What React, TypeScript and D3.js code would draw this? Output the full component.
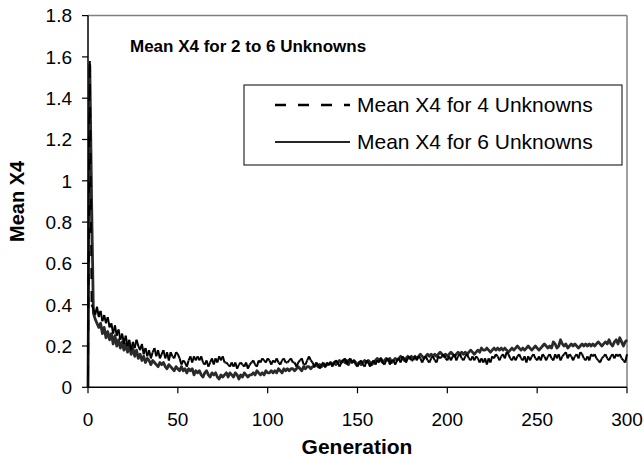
import React from "react";
import * as d3 from "d3";

// Mean X4 for 4 Unknowns (dashed), one value per generation 0..300
const mean4: number[] = [
  0.05, 1.58, 0.40, 0.38, 0.35, 0.39, 0.34, 0.37, 0.32, 0.35, 0.31,
  0.34, 0.29, 0.31, 0.26, 0.30, 0.25, 0.28, 0.23, 0.26, 0.21,
  0.25, 0.20, 0.23, 0.18, 0.22, 0.19, 0.23, 0.20, 0.18, 0.21,
  0.16, 0.19, 0.15, 0.18, 0.14, 0.17, 0.19, 0.15, 0.18, 0.14,
  0.16, 0.18, 0.14, 0.17, 0.13, 0.17, 0.15, 0.14, 0.17, 0.16,
  0.14, 0.11, 0.13, 0.12, 0.10, 0.13, 0.15, 0.12, 0.15, 0.13,
  0.15, 0.13, 0.15, 0.12, 0.11, 0.13, 0.10, 0.12, 0.14, 0.11,
  0.14, 0.12, 0.15, 0.13, 0.15, 0.12, 0.12, 0.11, 0.10, 0.12,
  0.10, 0.12, 0.09, 0.11, 0.12, 0.11, 0.10, 0.12, 0.09, 0.11,
  0.12, 0.13, 0.11, 0.10, 0.13, 0.12, 0.14, 0.13, 0.12, 0.14,
  0.13, 0.11, 0.13, 0.12, 0.14, 0.12, 0.11, 0.13, 0.14, 0.12,
  0.12, 0.13, 0.14, 0.12, 0.12, 0.10, 0.12, 0.13, 0.14, 0.11,
  0.11, 0.13, 0.15, 0.13, 0.12, 0.10, 0.12, 0.11, 0.09, 0.11,
  0.12, 0.10, 0.12, 0.11, 0.12, 0.10, 0.12, 0.13, 0.12, 0.10,
  0.12, 0.13, 0.14, 0.11, 0.13, 0.14, 0.12, 0.13, 0.11, 0.10,
  0.12, 0.13, 0.11, 0.10, 0.13, 0.12, 0.10, 0.12, 0.13, 0.11,
  0.13, 0.12, 0.14, 0.12, 0.11, 0.13, 0.14, 0.11, 0.13, 0.13,
  0.11, 0.13, 0.14, 0.12, 0.15, 0.14, 0.12, 0.14, 0.15, 0.13,
  0.13, 0.15, 0.13, 0.15, 0.14, 0.12, 0.14, 0.15, 0.13, 0.12,
  0.14, 0.15, 0.13, 0.12, 0.15, 0.14, 0.15, 0.16, 0.14, 0.13,
  0.15, 0.13, 0.15, 0.16, 0.13, 0.15, 0.16, 0.14, 0.13, 0.15,
  0.16, 0.14, 0.13, 0.15, 0.13, 0.15, 0.14, 0.12, 0.14, 0.12,
  0.14, 0.11, 0.14, 0.12, 0.15, 0.14, 0.16, 0.15, 0.13, 0.15,
  0.16, 0.14, 0.17, 0.16, 0.14, 0.13, 0.15, 0.13, 0.15, 0.16,
  0.14, 0.13, 0.15, 0.12, 0.15, 0.13, 0.15, 0.16, 0.14, 0.13,
  0.15, 0.13, 0.16, 0.15, 0.13, 0.15, 0.16, 0.14, 0.13, 0.16,
  0.14, 0.16, 0.13, 0.15, 0.16, 0.17, 0.14, 0.16, 0.15, 0.13,
  0.15, 0.16, 0.14, 0.17, 0.16, 0.14, 0.13, 0.15, 0.13, 0.16,
  0.15, 0.16, 0.14, 0.13, 0.12, 0.14, 0.15, 0.16, 0.14, 0.13,
  0.15, 0.16, 0.14, 0.16, 0.15, 0.16, 0.14, 0.13, 0.12, 0.16,
];

// Mean X4 for 6 Unknowns (solid), one value per generation 0..300
const mean6: number[] = [
  0.00, 1.56, 0.90, 0.36, 0.33, 0.31, 0.29, 0.31, 0.26, 0.29, 0.24,
  0.27, 0.23, 0.26, 0.21, 0.25, 0.20, 0.23, 0.19, 0.22, 0.18,
  0.21, 0.17, 0.20, 0.16, 0.19, 0.15, 0.18, 0.14, 0.16, 0.13,
  0.15, 0.12, 0.14, 0.13, 0.11, 0.13, 0.12, 0.11, 0.10, 0.12,
  0.11, 0.12, 0.10, 0.09, 0.11, 0.10, 0.09, 0.08, 0.10, 0.09,
  0.08, 0.10, 0.08, 0.09, 0.07, 0.09, 0.08, 0.09, 0.06, 0.08,
  0.07, 0.08, 0.06, 0.05, 0.07, 0.08, 0.06, 0.05, 0.07, 0.06,
  0.07, 0.05, 0.04, 0.06, 0.05, 0.06, 0.07, 0.05, 0.07, 0.06,
  0.05, 0.07, 0.06, 0.04, 0.06, 0.05, 0.07, 0.06, 0.05, 0.06,
  0.06, 0.07, 0.06, 0.08, 0.07, 0.06, 0.07, 0.06, 0.08, 0.07,
  0.07, 0.08, 0.07, 0.08, 0.07, 0.09, 0.08, 0.07, 0.09, 0.08,
  0.09, 0.08, 0.09, 0.09, 0.08, 0.09, 0.10, 0.09, 0.08, 0.10,
  0.09, 0.10, 0.10, 0.09, 0.10, 0.10, 0.11, 0.10, 0.11, 0.10,
  0.11, 0.10, 0.11, 0.11, 0.12, 0.11, 0.12, 0.11, 0.12, 0.13,
  0.12, 0.13, 0.12, 0.13, 0.11, 0.13, 0.12, 0.13, 0.12, 0.11,
  0.12, 0.11, 0.12, 0.13, 0.12, 0.13, 0.12, 0.11, 0.12, 0.13,
  0.14, 0.13, 0.14, 0.12, 0.13, 0.14, 0.13, 0.14, 0.12, 0.13,
  0.14, 0.13, 0.14, 0.15, 0.14, 0.13, 0.14, 0.15, 0.14, 0.15,
  0.14, 0.15, 0.14, 0.15, 0.16, 0.15, 0.14, 0.15, 0.16, 0.15,
  0.16, 0.15, 0.16, 0.15, 0.16, 0.17, 0.16, 0.15, 0.16, 0.15,
  0.16, 0.17, 0.16, 0.15, 0.16, 0.17, 0.16, 0.17, 0.16, 0.17,
  0.16, 0.17, 0.18, 0.17, 0.16, 0.17, 0.18, 0.17, 0.19, 0.18,
  0.18, 0.19, 0.18, 0.17, 0.18, 0.19, 0.18, 0.19, 0.18, 0.19,
  0.18, 0.19, 0.18, 0.17, 0.18, 0.19, 0.18, 0.19, 0.20, 0.19,
  0.18, 0.19, 0.18, 0.19, 0.20, 0.19, 0.18, 0.19, 0.20, 0.19,
  0.18, 0.19, 0.20, 0.21, 0.20, 0.19, 0.20, 0.19, 0.22, 0.21,
  0.19, 0.20, 0.23, 0.21, 0.20, 0.21, 0.19, 0.20, 0.21, 0.20,
  0.21, 0.20, 0.19, 0.20, 0.21, 0.20, 0.21, 0.20, 0.21, 0.20,
  0.21, 0.20, 0.21, 0.22, 0.21, 0.20, 0.21, 0.22, 0.21, 0.23,
  0.21, 0.20, 0.22, 0.23, 0.21, 0.24, 0.22, 0.20, 0.22, 0.23,
];

const yTicks = [0, 0.2, 0.4, 0.6, 0.8, 1, 1.2, 1.4, 1.6, 1.8];
const xTicks = [0, 50, 100, 150, 200, 250, 300];
const chartTitle = "Mean X4 for 2 to 6 Unknowns";
const seriesNames = ["Mean X4 for 4 Unknowns", "Mean X4 for 6 Unknowns"];
const xTitle = "Generation";
const yTitle = "Mean X4";

const W = 644;
const H = 459;
const FONT = "'Liberation Sans', Arial, sans-serif";

export default function App() {
  const x = d3.scaleLinear().domain([0, 300]).range([88, 627]);
  const y = d3.scaleLinear().domain([0, 1.8]).range([387.3, 15.6]);
  const pts4 = mean4.map((v, i) => [i, v] as [number, number]);
  const pts6 = mean6.map((v, i) => [i, v] as [number, number]);
  const line = d3
    .line<[number, number]>()
    .x((d) => x(d[0]))
    .y((d) => y(d[1]));

  const segs4: string[] = [];
  for (let i = 0; i < pts4.length - 1; i++) {
    segs4.push(line([pts4[i], pts4[i + 1]]) as string);
  }

  const [x0, x1] = x.range();
  const [y0, y1] = y.range();

  return (
    <svg
      width={W}
      height={H}
      style={{ position: "absolute", left: 0, top: 0, background: "#fff" }}
      fontFamily={FONT}
    >
      <rect x={0} y={0} width={W} height={H} fill="#fff" />
      {/* frame top/right */}
      <line x1={x0} y1={y1} x2={x1} y2={y1} stroke="#808080" strokeWidth={1.5} />
      <line x1={x1} y1={y1} x2={x1} y2={y0} stroke="#808080" strokeWidth={1.5} />

      {/* series */}
      <path d={line(pts6) as string} fill="none" stroke="#2a2a2a" strokeWidth={2.8} strokeLinejoin="round" />
      {segs4.map((d, i) => (
        <path key={i} d={d} fill="none" stroke="#000" strokeWidth={2} strokeDasharray="11,12" />
      ))}

      {/* axes */}
      <line x1={x0} y1={y1} x2={x0} y2={y0} stroke="#000" strokeWidth={1.5} />
      <line x1={x0} y1={y0} x2={x1} y2={y0} stroke="#000" strokeWidth={1.5} />
      {yTicks.map((t) => (
        <g key={"y" + t}>
          <line x1={x0 - 6} x2={x0} y1={y(t)} y2={y(t)} stroke="#000" strokeWidth={1.2} />
          <text x={72} y={y(t)} dy="0.36em" textAnchor="end" fontSize={19} fill="#000">
            {String(t)}
          </text>
        </g>
      ))}
      {xTicks.map((t) => (
        <g key={"x" + t}>
          <line x1={x(t)} x2={x(t)} y1={y0} y2={y0 + 6} stroke="#000" strokeWidth={1.2} />
          <text x={x(t)} y={426} textAnchor="middle" fontSize={19} fill="#000">
            {String(t)}
          </text>
        </g>
      ))}

      {/* titles */}
      <text x={130} y={52} fontSize={17} fontWeight="bold" fill="#000">
        {chartTitle}
      </text>
      <text x={357} y={454} textAnchor="middle" fontSize={21} fontWeight="bold" fill="#000">
        {xTitle}
      </text>
      <text
        transform={`translate(24, ${(y0 + y1) / 2}) rotate(-90)`}
        textAnchor="middle"
        fontSize={20}
        fontWeight="bold"
        fill="#000"
      >
        {yTitle}
      </text>

      {/* legend */}
      <rect x={244} y={85} width={378} height={80} fill="#fff" stroke="#000" strokeWidth={1} />
      <line x1={275} x2={350} y1={105} y2={105} stroke="#000" strokeWidth={2.5} strokeDasharray="11,12" />
      <text x={357} y={112} fontSize={21} fill="#000">
        {seriesNames[0]}
      </text>
      <line x1={275} x2={350} y1={142} y2={142} stroke="#262626" strokeWidth={2} />
      <text x={357} y={149} fontSize={21} fill="#000">
        {seriesNames[1]}
      </text>
    </svg>
  );
}
